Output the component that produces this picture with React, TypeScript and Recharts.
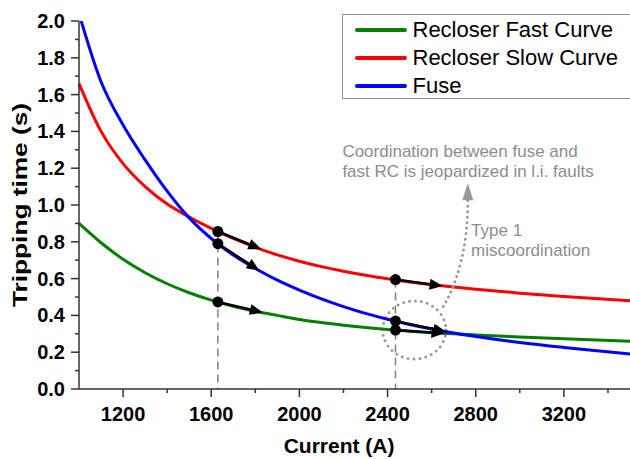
import React from 'react';
import {
  LineChart, Line, XAxis, YAxis, Legend,
  ReferenceLine, ReferenceDot, ReferenceArea,
} from 'recharts';

// current (A) sampled along the curves
const currents = [1000, 1100, 1200, 1300, 1400, 1500, 1600, 1700, 1800, 1900, 2000, 2100, 2200, 2300, 2400, 2500, 2600, 2700, 2800, 3000, 3200, 3500];
const fastCurve = [0.9, 0.795, 0.705, 0.632, 0.572, 0.523, 0.483, 0.45, 0.423, 0.4, 0.378, 0.361, 0.347, 0.334, 0.323, 0.314, 0.306, 0.3, 0.294, 0.283, 0.273, 0.259];
const slowCurve = [1.66, 1.4, 1.225, 1.1, 1.005, 0.935, 0.873, 0.818, 0.77, 0.729, 0.694, 0.665, 0.64, 0.618, 0.599, 0.582, 0.567, 0.554, 0.542, 0.521, 0.503, 0.48];
const fuseCurve = [2.04, 1.67, 1.435, 1.245, 1.075, 0.93, 0.818, 0.728, 0.655, 0.592, 0.538, 0.49, 0.448, 0.411, 0.379, 0.351, 0.326, 0.304, 0.285, 0.253, 0.226, 0.19];

const xTicks = [1200, 1400, 1600, 1800, 2000, 2200, 2400, 2600, 2800, 3000, 3200, 3400];
const yTicks = [0, 0.1, 0.2, 0.3, 0.4, 0.5, 0.6, 0.7, 0.8, 0.9, 1, 1.1, 1.2, 1.3, 1.4, 1.5, 1.6, 1.7, 1.8, 1.9, 2];

const series = [
  { key: 'fast', name: 'Recloser Fast Curve', color: '#008000' },
  { key: 'slow', name: 'Recloser Slow Curve', color: '#ff0000' },
  { key: 'fuse', name: 'Fuse', color: '#0000ff' },
];

// annotations
const dropLines = [
  { x: 1630, top: 0.856 },
  { x: 2436, top: 0.595 },
];
const arrows = [
  { from: { x: 1630, y: 0.856 }, to: { x: 1827, y: 0.76 } },
  { from: { x: 1630, y: 0.79 }, to: { x: 1819, y: 0.643 } },
  { from: { x: 1630, y: 0.473 }, to: { x: 1834, y: 0.416 } },
  { from: { x: 2436, y: 0.595 }, to: { x: 2650, y: 0.56 } },
  { from: { x: 2436, y: 0.369 }, to: { x: 2666, y: 0.311 } },
  { from: { x: 2436, y: 0.32 }, to: { x: 2658, y: 0.303 } },
];
const circleArea = { x1: 2378, x2: 2665, y1: 0.163, y2: 0.479 };
const dottedArrow = { from: { x: 2653, y: 0.448 }, to: { x: 2764, y: 1.118 } };
const noteMain = { x: 2195, y: 1.262, lines: ['Coordination between fuse and', 'fast RC is jeopardized in l.i. faults'] };
const noteType = { x: 2779, y: 0.833, lines: ['Type 1', 'miscoordination'] };

const data = currents.map((c, i) => ({
  current: c,
  fast: fastCurve[i],
  slow: slowCurve[i],
  fuse: fuseCurve[i],
}));

const FONT = '"Liberation Sans", Arial, sans-serif';
const AXIS = '#333';
const GREY = '#8c8c8c';

const XTick = ({ x, y, payload }: any) => {
  const major = payload.value % 400 === 0;
  return (
    <g>
      <line x1={x} x2={x} y1={y} y2={y + (major ? 8 : 4)} stroke={AXIS} strokeWidth={1.5} />
      {major && (
        <text x={x} y={y + 32} textAnchor="middle" fontSize={20} fontWeight="bold" fontFamily={FONT} fill="#000">
          {payload.value}
        </text>
      )}
    </g>
  );
};

const YTick = ({ x, y, payload }: any) => {
  const major = Math.round(payload.value * 10) % 2 === 0;
  return (
    <g>
      <line x1={x} x2={x - (major ? 8 : 4)} y1={y} y2={y} stroke={AXIS} strokeWidth={1.5} />
      {major && (
        <text x={x - 14} y={y + 7} textAnchor="end" fontSize={20} fontWeight="bold" fontFamily={FONT} fill="#000">
          {payload.value.toFixed(1)}
        </text>
      )}
    </g>
  );
};

const ArrowShape = ({ x1, y1, x2, y2 }: any) => {
  const ang = Math.atan2(y2 - y1, x2 - x1);
  const len = 13;
  const half = 5.5;
  const bx = x2 - len * Math.cos(ang);
  const by = y2 - len * Math.sin(ang);
  const px = -Math.sin(ang) * half;
  const py = Math.cos(ang) * half;
  return (
    <g>
      <line x1={x1} y1={y1} x2={bx} y2={by} stroke="#000" strokeWidth={2.5} />
      <polygon points={`${x2},${y2} ${bx + px},${by + py} ${bx - px},${by - py}`} fill="#000" />
    </g>
  );
};

const DottedCurveArrow = ({ x1, y1, x2, y2 }: any) => {
  const len = 17;
  const bx = x2;
  const by = y2 + len;
  const cx = bx;
  const cy = y1 - 0.4 * (y1 - by);
  return (
    <g>
      <path
        d={`M${x1},${y1} Q${cx},${cy} ${bx},${by}`}
        fill="none"
        stroke="#999"
        strokeWidth={3}
        strokeDasharray="0 5.5"
        strokeLinecap="round"
      />
      <polygon points={`${x2},${y2} ${bx - 5.5},${by} ${bx + 5.5},${by}`} fill="#999" />
    </g>
  );
};

const EllipseShape = ({ x, y, width, height }: any) => (
  <ellipse
    cx={x + width / 2}
    cy={y + height / 2}
    rx={width / 2}
    ry={height / 2}
    fill="none"
    stroke="#999"
    strokeWidth={3}
    strokeDasharray="0 6"
    strokeLinecap="round"
  />
);

const noteShape = (lines: string[]) => ({ cx, cy }: any) => (
  <text x={cx} y={cy} fill={GREY} fontSize={17} fontFamily={FONT}>
    {lines.map((l, i) => (
      <tspan key={i} x={cx} dy={i === 0 ? 0 : 20}>{l}</tspan>
    ))}
  </text>
);

const LegendBox = () => (
  <div
    style={{
      boxSizing: 'border-box',
      width: 300,
      height: 85,
      border: '1.5px solid #8c8c8c',
      paddingTop: 1.6,
      background: '#fff',
      fontFamily: FONT,
    }}
  >
    {series.map((s) => (
      <div key={s.key} style={{ display: 'flex', alignItems: 'center', height: 27.8 }}>
        <div style={{ marginLeft: 11.5, width: 52, height: 4, borderRadius: 2, background: s.color }} />
        <span style={{ marginLeft: 6, fontSize: 22, lineHeight: 1, color: '#000' }}>{s.name}</span>
      </div>
    ))}
  </div>
);

const YTitle = ({ viewBox }: any) => {
  const cx = viewBox.x + 27;
  const cy = viewBox.y + viewBox.height / 2;
  return (
    <text
      x={cx}
      y={cy}
      transform={`rotate(-90, ${cx}, ${cy})`}
      textAnchor="middle"
      fontSize={21}
      fontWeight="bold"
      fontFamily={FONT}
      textLength={204}
      lengthAdjust="spacingAndGlyphs"
      fill="#000"
    >
      Tripping time (s)
    </text>
  );
};

const XTitle = ({ viewBox }: any) => (
  <text
    x={viewBox.x + viewBox.width * 0.472}
    y={viewBox.y + 64}
    textAnchor="middle"
    fontSize={21}
    fontWeight="bold"
    fontFamily={FONT}
    fill="#000"
  >
    Current (A)
  </text>
);

export default function App() {
  return (
    <div style={{ position: 'absolute', left: 0, top: 0, width: 630, height: 459, background: '#fff', fontFamily: FONT }}>
      <LineChart width={630} height={459} data={data} margin={{ top: 21, right: 0, bottom: 0, left: 0 }}>
        <XAxis
          dataKey="current"
          type="number"
          domain={[1000, 3500]}
          ticks={xTicks}
          interval={0}
          height={70}
          tickSize={0}
          tickMargin={0}
          tickLine={false}
          axisLine={{ stroke: AXIS, strokeWidth: 1.5 }}
          tick={<XTick />}
          label={<XTitle />}
        />
        <YAxis
          type="number"
          domain={[0, 2]}
          allowDataOverflow
          ticks={yTicks}
          interval={0}
          width={79}
          tickSize={0}
          tickMargin={0}
          tickLine={false}
          axisLine={{ stroke: AXIS, strokeWidth: 1.5 }}
          tick={<YTick />}
          label={<YTitle />}
        />
        <Legend
          layout="vertical"
          align="center"
          verticalAlign="middle"
          wrapperStyle={{ left: 342, top: 14, width: 300, height: 85 }}
          content={<LegendBox />}
        />
        {series.map((s) => (
          <Line
            key={s.key}
            dataKey={s.key}
            name={s.name}
            type="monotone"
            stroke={s.color}
            strokeWidth={3}
            dot={false}
            activeDot={false}
            isAnimationActive={false}
          />
        ))}
        {dropLines.map((d, i) => (
          <ReferenceLine
            key={`drop${i}`}
            segment={[{ x: d.x, y: d.top }, { x: d.x, y: 0 }]}
            stroke="#808080"
            strokeWidth={1.5}
            strokeDasharray="8 5"
          />
        ))}
        {arrows.map((a, i) => (
          <ReferenceLine key={`arr${i}`} segment={[a.from, a.to]} shape={ArrowShape} />
        ))}
        {arrows.map((a, i) => (
          <ReferenceDot key={`dot${i}`} x={a.from.x} y={a.from.y} r={5.5} fill="#000" stroke="none" />
        ))}
        <ReferenceArea
          x1={circleArea.x1}
          x2={circleArea.x2}
          y1={circleArea.y1}
          y2={circleArea.y2}
          shape={EllipseShape}
        />
        <ReferenceLine segment={[dottedArrow.from, dottedArrow.to]} shape={DottedCurveArrow} />
        <ReferenceDot x={noteMain.x} y={noteMain.y} r={0} shape={noteShape(noteMain.lines)} />
        <ReferenceDot x={noteType.x} y={noteType.y} r={0} shape={noteShape(noteType.lines)} />
      </LineChart>
    </div>
  );
}
